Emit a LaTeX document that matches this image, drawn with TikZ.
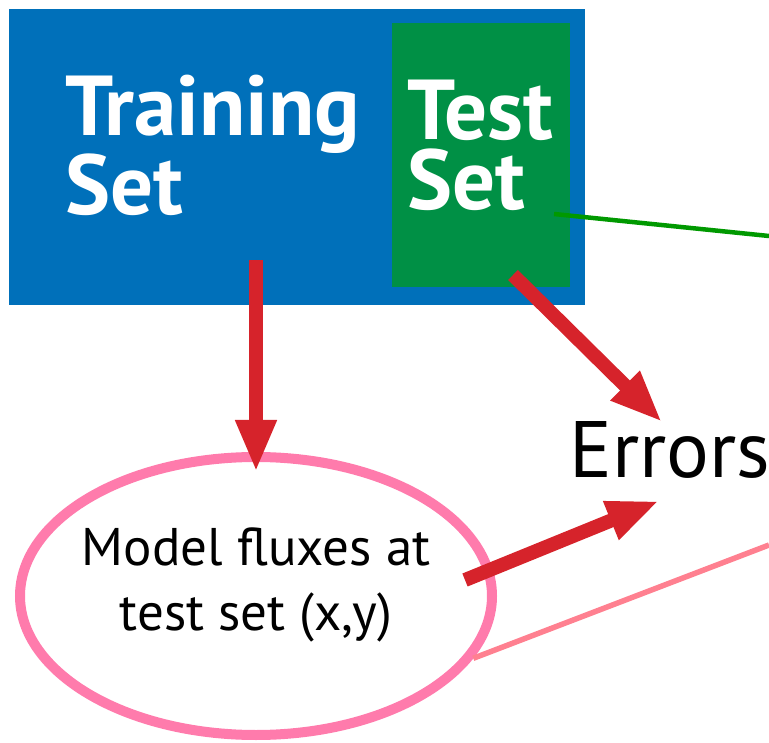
\documentclass[tikz,border=0pt]{standalone}
\usepackage{fontspec}
\setmainfont{PT Sans}
\usepackage{xcolor}
\usetikzlibrary{shapes.geometric, arrows.meta, calc}

\definecolor{setblue}{HTML}{0070BA}
\definecolor{setgreen}{HTML}{009045}
\definecolor{arrowred}{HTML}{D6232B}
\definecolor{ringpink}{HTML}{FF7BAC}
\definecolor{linepink}{HTML}{FF8090}
\definecolor{linegreen}{HTML}{009900}

\begin{document}
\begin{tikzpicture}[x=1pt, y=-1pt,
        box/.style={rectangle, inner sep=0pt, outer sep=0pt},
        setlabel/.style={text=white, font=\bfseries\fontsize{85}{70}\selectfont,
            align=left, inner sep=0pt, anchor=base west},
        redarrow/.style={draw=arrowred, line width=14pt,
            -{Triangle[width=38pt, length=52pt]}, fill=arrowred}]
        \useasboundingbox (0,0) rectangle (769,743);

        \node[box, fill=setblue, minimum width=576pt, minimum height=296pt] (training) at (297,157) {};
        \node[box, fill=setgreen, minimum width=178pt, minimum height=264pt] (test) at (481,155) {};
        \node[setlabel] (trainlabel) at (65,215) {Training\\Set};
        \node[setlabel] (testlabel) at (407,210) {Test\\Set};

        \node[ellipse, draw=ringpink, line width=10pt, minimum width=472pt, minimum height=278pt] (model) at (256,596) {};
        \node[align=center, inner sep=0pt, font=\fontsize{53}{65}\selectfont] (modeltext) at ($(model.center)+(0,-11)$) {Model fluxes at\\test set (x,y)};
        \node[inner sep=0pt, anchor=base west, font=\fontsize{80}{90}\selectfont] (errors) at (569,478) {Errors};

        \coordinate (greenend) at (769,236);
        \coordinate (pinkend) at (769,545);

        \draw[linegreen, line width=4.5pt] ($(test.south east)+(-16,-73)$) -- (greenend);
        \draw[linepink, line width=5.5pt] (model.-16) -- (pinkend);

        \draw[redarrow] ($(training.south)+(-41,-45)$) -- ($(model.north)+(0,20)$);
        \draw[redarrow] ($(test.south)+(32,-12)$) -- ($(errors.base west)+(93,-56)$);
        \draw[redarrow] ($(model.east)+(-32,-16)$) -- ($(errors.base west)+(90,23)$);
    \end{tikzpicture}
\end{document}
